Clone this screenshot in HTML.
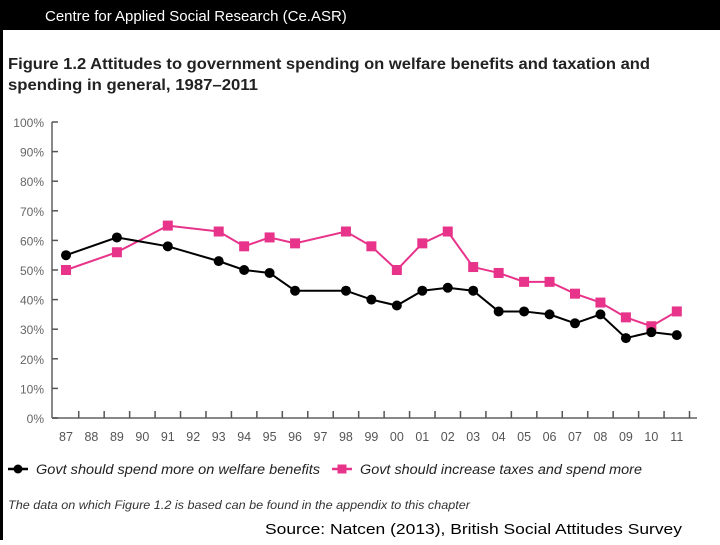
<!DOCTYPE html>
<html><head><meta charset="utf-8"><style>
body{margin:0;width:720px;height:540px;overflow:hidden;background:#fff;font-family:"Liberation Sans",sans-serif;}
#wrap{position:relative;width:720px;height:540px;}
</style></head><body>
<div id="wrap">
<svg width="720" height="540" id="svg">
<rect x="0" y="0" width="720" height="30" fill="#000"/>
<rect x="0" y="0" width="3" height="540" fill="#000"/>
<text x="45" y="21" fill="#fff" font-size="15" font-family="Liberation Sans, sans-serif">Centre for Applied Social Research (Ce.ASR)</text>
<text x="8" y="69" font-size="15.5" font-weight="bold" fill="#222" textLength="642" lengthAdjust="spacingAndGlyphs">Figure 1.2 Attitudes to government spending on welfare benefits and taxation and</text>
<text x="8" y="90" font-size="15.5" font-weight="bold" fill="#222" textLength="250" lengthAdjust="spacingAndGlyphs">spending in general, 1987–2011</text>
<g id="axes"></g>
<g id="marks"></g>
<g>
<line x1="8" y1="469" x2="28" y2="469" stroke="#000" stroke-width="2.5"/>
<circle cx="18" cy="469" r="4.5" fill="#000"/>
<text x="36" y="474" font-size="13.5" font-style="italic" fill="#222" textLength="284" lengthAdjust="spacingAndGlyphs">Govt should spend more on welfare benefits</text>
<line x1="332" y1="469" x2="352" y2="469" stroke="#e8338a" stroke-width="2.5"/>
<rect x="337.5" y="464.5" width="9" height="9" fill="#e8338a"/>
<text x="360" y="474" font-size="13.5" font-style="italic" fill="#222" textLength="282" lengthAdjust="spacingAndGlyphs">Govt should increase taxes and spend more</text>
</g>
<text x="8" y="509" font-size="11.5" font-style="italic" fill="#333" textLength="462" lengthAdjust="spacingAndGlyphs">The data on which Figure 1.2 is based can be found in the appendix to this chapter</text>
<text x="265" y="534" font-size="15" fill="#000" textLength="417" lengthAdjust="spacingAndGlyphs">Source: Natcen (2013), British Social Attitudes Survey</text>
</svg>
</div>
<script>
const years=["87","88","89","90","91","92","93","94","95","96","97","98","99","00","01","02","03","04","05","06","07","08","09","10","11"];
const welfareYears=["87","89","91","93","94","95","96","98","99","00","01","02","03","04","05","06","07","08","09","10","11"];
const welfareValues=[55,61,58,53,50,49,43,43,40,38,43,44,43,36,36,35,32,35,27,29,28];
const taxValues=[50,56,65,63,58,61,59,63,58,50,59,63,51,49,46,46,42,39,34,31,36];
const yTicks=[0,10,20,30,40,50,60,70,80,90,100];
const NS="http://www.w3.org/2000/svg";
const x0=66,dx=25.45,y0=418,yTop=122;
function xs(y){return x0+years.indexOf(y)*dx;}
function ys(v){return y0-(y0-yTop)*v/100;}
function mk(t,a,p){const e=document.createElementNS(NS,t);for(const k in a)e.setAttribute(k,a[k]);p.appendChild(e);return e;}
const ax=document.getElementById('axes'),mg=document.getElementById('marks');
const ya=mk('line',{x1:52,y1:yTop,x2:52,y2:y0,stroke:'#888','stroke-width':2},ax);


const xa=mk('line',{x1:52,y1:y0,x2:697,y2:y0,stroke:'#888','stroke-width':2},ax);


yTicks.forEach(v=>{
 mk('line',{x1:52,y1:ys(v),x2:58,y2:ys(v),stroke:'#555','stroke-width':1.5},ax);
 const t=mk('text',{x:44,y:ys(v)+5,'font-size':12,'text-anchor':'end',fill:'#666'},ax);
 t.textContent=v+'%';
 
 
});
years.forEach((y,i)=>{
 const x=xs(y);
 if(i>0)mk('line',{x1:x-dx/2,y1:y0,x2:x-dx/2,y2:y0-7,stroke:'#555','stroke-width':1.5},ax);
 const t=mk('text',{x:x,y:441,'font-size':12.5,'text-anchor':'middle',fill:'#555'},ax);
 t.textContent=y;
 
 
});
mk('line',{x1:xs('11')+dx/2,y1:y0,x2:xs('11')+dx/2,y2:y0-7,stroke:'#555','stroke-width':1.5},ax);
function series(vals,color,name,shape){
 const pts=welfareYears.map((y,i)=>xs(y)+','+ys(vals[i])).join(' ');
 const pl=mk('polyline',{points:pts,fill:'none',stroke:color,'stroke-width':2},mg);
 
 
 welfareYears.forEach((y,i)=>{
  let m;
  if(shape==='c')m=mk('circle',{cx:xs(y),cy:ys(vals[i]),r:5,fill:color},mg);
  else m=mk('rect',{x:xs(y)-5,y:ys(vals[i])-5,width:10,height:10,fill:color},mg);
  
  
 });
}
series(taxValues,'#e8338a','taxes','s');
series(welfareValues,'#000','welfare','c');
</script>
</body></html>
